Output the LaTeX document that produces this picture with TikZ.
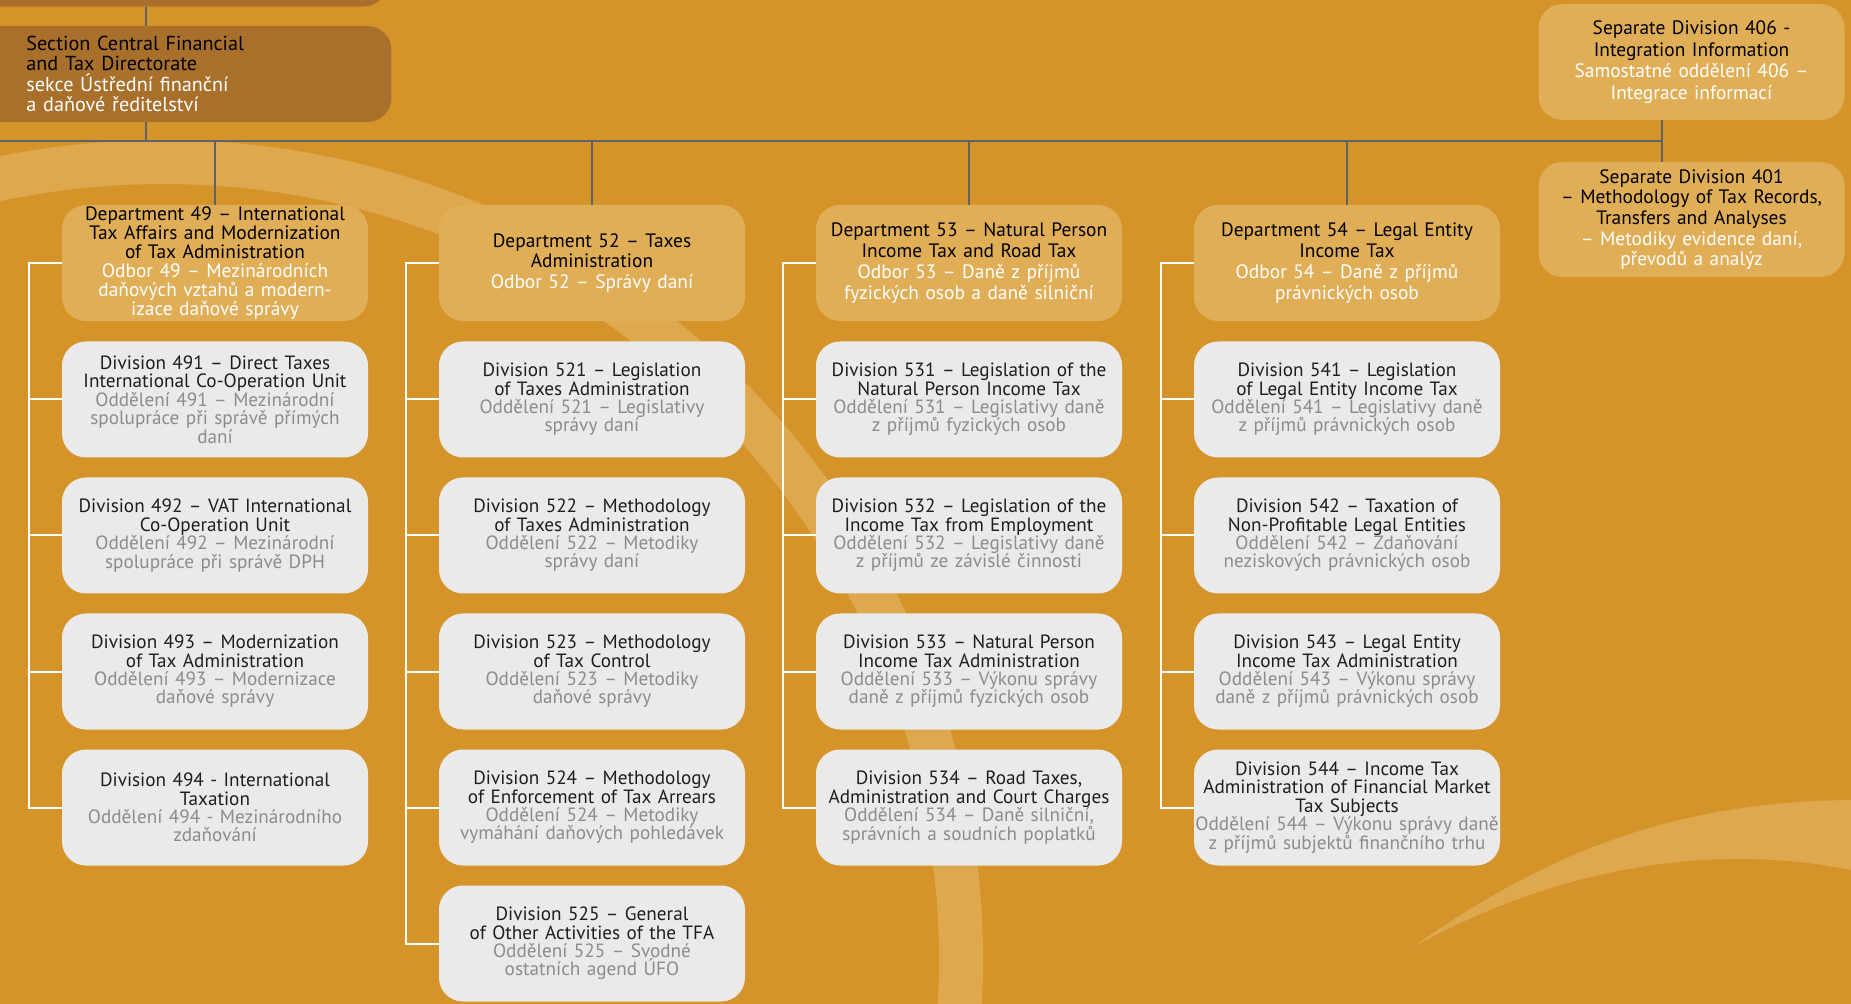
\documentclass[tikz,border=0pt]{standalone}
\usepackage{fontspec}
\setmainfont{PT Sans}
\definecolor{bgorange}{HTML}{D5942A}
\definecolor{bandlight}{HTML}{DEA84E}
\definecolor{deptfill}{HTML}{E1AE58}
\definecolor{secfill}{HTML}{A9702C}
\definecolor{divfill}{HTML}{EAEAEA}
\definecolor{divtxt}{HTML}{1E1E1E}
\definecolor{divsub}{HTML}{8C8C8C}
\definecolor{connline}{HTML}{5F6168}
\begin{document}
\begin{tikzpicture}[x=0.5pt,y=-0.5pt,
  boxbase/.style={rounded corners=12pt, minimum width=153pt, minimum height=58pt,
    inner sep=0pt, align=center, text width=151pt},
  deptbox/.style={boxbase, fill=deptfill, text=black, font=\fontsize{9.7}{10.4}\selectfont},
  divbox/.style={boxbase, fill=divfill, text=divtxt, font=\fontsize{9.6}{9.2}\selectfont},
  conn/.style={draw=connline, line width=1pt},
  brk/.style={draw=white, line width=1pt}]
\useasboundingbox (0,0) rectangle (1851,1004);
\clip (0,0) rectangle (1851,1004);
% background and decorative swooshes
\fill[bgorange] (0,0) rectangle (1851,1004);
\draw[bandlight, line width=22pt] (163,960) circle (798);
\fill[bandlight] (1413,947) .. controls (1550,850) and (1680,800) .. (1860,800)
  -- (1860,872) .. controls (1740,845) and (1580,855) .. (1413,947) -- cycle;

% section level
\node[fill=secfill, rounded corners=12pt, minimum width=213.5pt, minimum height=40pt,
  inner sep=0pt, anchor=south west] (topbox) at (-40,7) {};
\node[fill=secfill, rounded corners=12pt, anchor=west, inner xsep=33pt, inner ysep=0pt,
  minimum height=48pt, text width=149.5pt, align=left,
  font=\fontsize{10.1}{10.3}\selectfont] (sec) at (-40,74)
  {Section Central Financial\\and Tax Directorate\\\color{white}sekce Ústřední finanční\\\color{white}a daňové ředitelství};

% separate divisions
\node[deptbox, minimum height=58pt, font=\fontsize{9.7}{10.8}\selectfont] (s406) at (1691.5,62)
  {Separate Division 406 -\\Integration Information\\\color{white}Samostatné oddělení 406 –\\\color{white}Integrace informací};
\node[deptbox, minimum height=57.5pt, font=\fontsize{9.7}{10.3}\selectfont] (s401) at (1691.5,219.5)
  {Separate Division 401\\– Methodology of Tax Records,\\Transfers and Analyses\\\color{white}– Metodiky evidence daní,\\\color{white}převodů  a analýz};

% departments
\node[deptbox, font=\fontsize{9.7}{9.5}\selectfont] (d49) at (215,263)
  {Department 49 – International\\Tax Affairs and Modernization\\of Tax Administration\\\color{white}Odbor 49 – Mezinárodních\\\color{white}daňových vztahů a modern-\\\color{white}izace daňové správy};
\node[deptbox] (d52) at (592,263)
  {Department 52 – Taxes\\Administration\\\color{white}Odbor 52 – Správy daní};
\node[deptbox] (d53) at (969,263)
  {Department 53 – Natural Person\\Income Tax and Road Tax\\\color{white}Odbor 53 – Daně z příjmů\\\color{white}fyzických osob a daně silniční};
\node[deptbox] (d54) at (1347,263)
  {Department 54 – Legal Entity\\Income Tax\\\color{white}Odbor 54 – Daně z příjmů\\\color{white}právnických osob};

% divisions of department 49
\node[divbox] (v491) at (215,399.5)
  {Division 491 – Direct Taxes\\International Co-Operation Unit\\\color{divsub}Oddělení 491 – Mezinárodní\\\color{divsub}spolupráce při správě přímých\\\color{divsub}daní};
\node[divbox] (v492) at (215,535.5)
  {Division 492 – VAT International\\Co-Operation Unit\\\color{divsub}Oddělení 492 – Mezinárodní\\\color{divsub}spolupráce při správě DPH};
\node[divbox] (v493) at (215,671.5)
  {Division 493 – Modernization\\of  Tax Administration\\\color{divsub}Oddělení 493 – Modernizace\\\color{divsub}daňové správy};
\node[divbox] (v494) at (215,807.5)
  {Division 494 - International\\Taxation\\\color{divsub}Oddělení 494 -  Mezinárodního\\\color{divsub}zdaňování};

% divisions of department 52
\node[divbox] (v521) at (592,399.5)
  {Division 521 – Legislation\\of Taxes Administration\\\color{divsub}Oddělení 521 – Legislativy\\\color{divsub}správy daní};
\node[divbox] (v522) at (592,535.5)
  {Division 522 – Methodology\\of Taxes Administration\\\color{divsub}Oddělení 522 – Metodiky\\\color{divsub}správy daní};
\node[divbox] (v523) at (592,671.5)
  {Division 523 – Methodology\\of Tax Control\\\color{divsub}Oddělení 523 – Metodiky\\\color{divsub}daňové správy};
\node[divbox] (v524) at (592,807.5)
  {Division 524 – Methodology\\of  Enforcement of Tax Arrears\\\color{divsub}Oddělení 524 – Metodiky\\\color{divsub}vymáhání daňových pohledávek};
\node[divbox] (v525) at (592,943.5)
  {Division 525 – General\\of Other Activities of the TFA\\\color{divsub}Oddělení 525 – Svodné\\\color{divsub}ostatních agend ÚFO};

% divisions of department 53
\node[divbox] (v531) at (969,399.5)
  {Division 531 – Legislation of the\\Natural Person Income Tax\\\color{divsub}Oddělení 531 – Legislativy daně\\\color{divsub}z příjmů fyzických osob};
\node[divbox] (v532) at (969,535.5)
  {Division 532 – Legislation of the\\Income Tax from Employment\\\color{divsub}Oddělení 532 – Legislativy daně\\\color{divsub}z příjmů ze závislé činnosti};
\node[divbox] (v533) at (969,671.5)
  {Division 533 –   Natural Person\\Income Tax Administration\\\color{divsub}Oddělení 533 – Výkonu správy\\\color{divsub}daně z příjmů fyzických osob};
\node[divbox] (v534) at (969,807.5)
  {Division 534 – Road Taxes,\\Administration and Court Charges\\\color{divsub}Oddělení 534 – Daně silniční,\\\color{divsub}správních a soudních poplatků};

% divisions of department 54
\node[divbox] (v541) at (1347,399.5)
  {Division 541 – Legislation\\of  Legal Entity Income Tax\\\color{divsub}Oddělení 541 – Legislativy daně\\\color{divsub}z příjmů právnických osob};
\node[divbox] (v542) at (1347,535.5)
  {Division 542 – Taxation of\\Non-Profitable Legal Entities\\\color{divsub}Oddělení 542 – Zdaňování\\\color{divsub}neziskových právnických osob};
\node[divbox] (v543) at (1347,671.5)
  {Division 543 –  Legal Entity\\Income Tax Administration\\\color{divsub}Oddělení 543 – Výkonu správy\\\color{divsub}daně z příjmů právnických osob};
\node[divbox, text width=162pt, inner xsep=-4.5pt] (v544) at (1347,807.5)
  {Division 544 –  Income Tax\\Administration of Financial Market\\Tax Subjects\\\color{divsub}Oddělení 544 – Výkonu správy daně\\\color{divsub}z příjmů subjektů finančního trhu};

% grey connectors
\coordinate (tap) at (146,0);
\coordinate (busL) at (0,141);
\coordinate (busR) at (1662,141);
\draw[conn] (topbox.south -| tap) -- (sec.north -| tap);
\draw[conn] (sec.south -| tap) -- (tap |- busL);
\draw[conn] (busL) -- (busR);
\draw[conn] (s406.south -| busR) -- (s401.north -| busR);
\foreach \d in {d49,d52,d53,d54}
  \draw[conn] (\d.north |- busL) -- (\d.north);

% white brackets
\coordinate (b49) at (29,0);
\coordinate (b52) at (406,0);
\coordinate (b53) at (783,0);
\coordinate (b54) at (1161,0);
\draw[brk] (d49.west) -- (d49.west -| b49) -- (v494.west -| b49) -- (v494.west);
\draw[brk] (d52.west) -- (d52.west -| b52) -- (v525.west -| b52) -- (v525.west);
\draw[brk] (d53.west) -- (d53.west -| b53) -- (v534.west -| b53) -- (v534.west);
\draw[brk] (d54.west) -- (d54.west -| b54) -- (v544.west -| b54) -- (v544.west);
\foreach \v in {v491,v492,v493}
  \draw[brk] (\v.west -| b49) -- (\v.west);
\foreach \v in {v521,v522,v523,v524}
  \draw[brk] (\v.west -| b52) -- (\v.west);
\foreach \v in {v531,v532,v533}
  \draw[brk] (\v.west -| b53) -- (\v.west);
\foreach \v in {v541,v542,v543}
  \draw[brk] (\v.west -| b54) -- (\v.west);
\end{tikzpicture}
\end{document}
